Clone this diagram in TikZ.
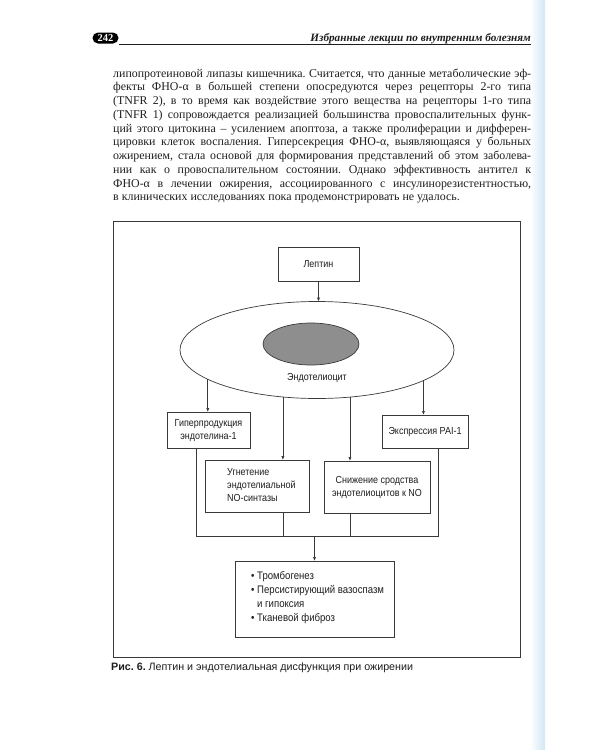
\documentclass[tikz,border=0pt]{standalone}
\usepackage{fontspec}
\setmainfont{Liberation Serif}
\newfontfamily\dsans[FakeStretch=0.88]{Liberation Sans}
\newfontfamily\capsans{Liberation Sans}
\usetikzlibrary{shapes.geometric,arrows.meta}
\definecolor{ink}{HTML}{1E1E1E}
\definecolor{linec}{HTML}{3A3A3A}
\definecolor{nucfill}{HTML}{8E8E8E}
\definecolor{blueband}{HTML}{D2E6F4}
\newcommand{\ptxt}{\fontsize{11.9}{13.75}\selectfont}
\frenchspacing
\begin{document}
\begin{tikzpicture}[x=1pt,y=-1pt,
  pline/.style={anchor=base west, inner sep=0, text=ink, font=\ptxt},
  box/.style={draw=linec, line width=0.8pt, inner sep=0, outer sep=0, text=ink,
    font=\dsans\fontsize{10.2}{13}\selectfont, align=center},
  btext/.style={inner sep=0, text=ink, font=\dsans\fontsize{10.2}{13}\selectfont},
  arr/.style={draw=linec, line width=0.7pt, -{Latex[length=4pt,width=3.2pt]}},
  ln/.style={draw=linec, line width=0.7pt}]
\useasboundingbox (0,0) rectangle (600,750);
\fill[white] (0,0) rectangle (600,750);
\shade[left color=white, right color=blueband] (530,0) rectangle (545,750);

% header
\node[fill=black, text=white, rounded corners=5.5pt, minimum width=26pt, minimum height=11pt,
  inner sep=0, font=\bfseries\fontsize{10.5}{10.5}\selectfont] (pnum) at (105.5,38) {242};
\coordinate (hlend) at (531,44);
\draw[line width=0.6pt, ink] (pnum.east |- hlend) -- (hlend);
\node[anchor=base east, inner sep=0, text=ink, font=\bfseries\itshape\fontsize{11.2}{12}\selectfont]
  (htitle) at (531,41) {Избранные лекции по внутренним болезням};

% paragraph
\node[pline] (p1) at (113,77) {\makebox[418pt][s]{липопротеиновой липазы кишечника. Считается, что данные метаболические эф-}};
\node[pline] (p2) at (113,90.75) {\makebox[418pt][s]{фекты ФНО-α в большей степени опосредуются через рецепторы 2-го типа}};
\node[pline] (p3) at (113,104.5) {\makebox[418pt][s]{(TNFR 2), в то время как воздействие этого вещества на рецепторы 1-го типа}};
\node[pline] (p4) at (113,118.25) {\makebox[418pt][s]{(TNFR 1) сопровождается реализацией большинства провоспалительных функ-}};
\node[pline] (p5) at (113,132) {\makebox[418pt][s]{ций этого цитокина – усилением апоптоза, а также пролиферации и дифферен-}};
\node[pline] (p6) at (113,145.75) {\makebox[418pt][s]{цировки клеток воспаления. Гиперсекреция ФНО-α, выявляющаяся у больных}};
\node[pline] (p7) at (113,159.5) {\makebox[418pt][s]{ожирением, стала основой для формирования представлений об этом заболева-}};
\node[pline] (p8) at (113,173.25) {\makebox[418pt][s]{нии как о провоспалительном состоянии. Однако эффективность антител к}};
\node[pline] (p9) at (113,187) {\makebox[418pt][s]{ФНО-α в лечении ожирения, ассоциированного с инсулинорезистентностью,}};
\node[pline] (p10) at (113,200.75) {в клинических исследованиях пока продемонстрировать не удалось.};

% frame
\node[draw=linec, line width=1pt, minimum width=407pt, minimum height=436pt, inner sep=0] (frame) at (316.5,439) {};

% diagram
\node[box, minimum width=81pt, minimum height=34pt] (lep) at (318.5,264) {Лептин};
\node[draw=linec, line width=0.7pt, ellipse, minimum width=274pt, minimum height=97pt, inner sep=0, outer sep=0] (cell) at (317,350) {};
\node[draw=linec, line width=0.7pt, fill=nucfill, ellipse, minimum width=96pt, minimum height=42pt, inner sep=0] (nuc) at (311,344) {};
\node[btext] (cellt) at (317,378) {Эндотелиоцит};

\node[box, minimum width=83pt, minimum height=36pt] (hyp) at (208.5,430) {Гиперпродукция\\эндотелина-1};
\node[box, minimum width=86pt, minimum height=33pt] (pai) at (425,431.5) {Экспрессия PAI-1};
\node[box, minimum width=104pt, minimum height=52pt] (ugn) at (257,486) {};
\node[btext, anchor=west, align=left] (ugnt) at (227,485.5) {Угнетение\\эндотелиальной\\NO-синтазы};
\node[box, minimum width=106pt, minimum height=52pt] (sni) at (377,487) {Снижение сродства\\эндотелиоцитов к NO};
\node[box, minimum width=159pt, minimum height=76pt] (res) at (314.5,599) {};
\node[btext, anchor=west, align=left, font=\dsans\fontsize{10.9}{14}\selectfont] (rest) at (251,598) {• Тромбогенез\\• Персистирующий вазоспазм\\\phantom{• }и гипоксия\\• Тканевой фиброз};

\draw[arr] (lep.south) -- (lep.south |- cell.north);
\draw[arr] (cell.195.1) -- (cell.195.1 |- hyp.north);
\draw[arr] (cell.344.6) -- (cell.344.6 |- pai.north);
\draw[arr] (cell.234.97) -- (cell.234.97 |- ugn.north);
\draw[arr] (cell.305.9) -- (cell.305.9 |- sni.north);

\coordinate (bl) at (196,536);
\coordinate (br) at (438,536);
\draw[ln] (hyp.south -| bl) -- (bl) -- (br) -- (pai.south -| br);
\draw[ln] (ugn.south -| cell.234.97) -- (cell.234.97 |- bl);
\draw[ln] (sni.south -| cell.305.9) -- (cell.305.9 |- bl);
\draw[arr] (res.north |- bl) -- (res.north);

% caption
\node[anchor=base west, inner sep=0, text=ink, font=\capsans\fontsize{10.7}{12}\selectfont] (cap) at (111,670)
  {\textbf{Рис. 6.} Лептин и эндотелиальная дисфункция при ожирении};
\end{tikzpicture}
\end{document}
